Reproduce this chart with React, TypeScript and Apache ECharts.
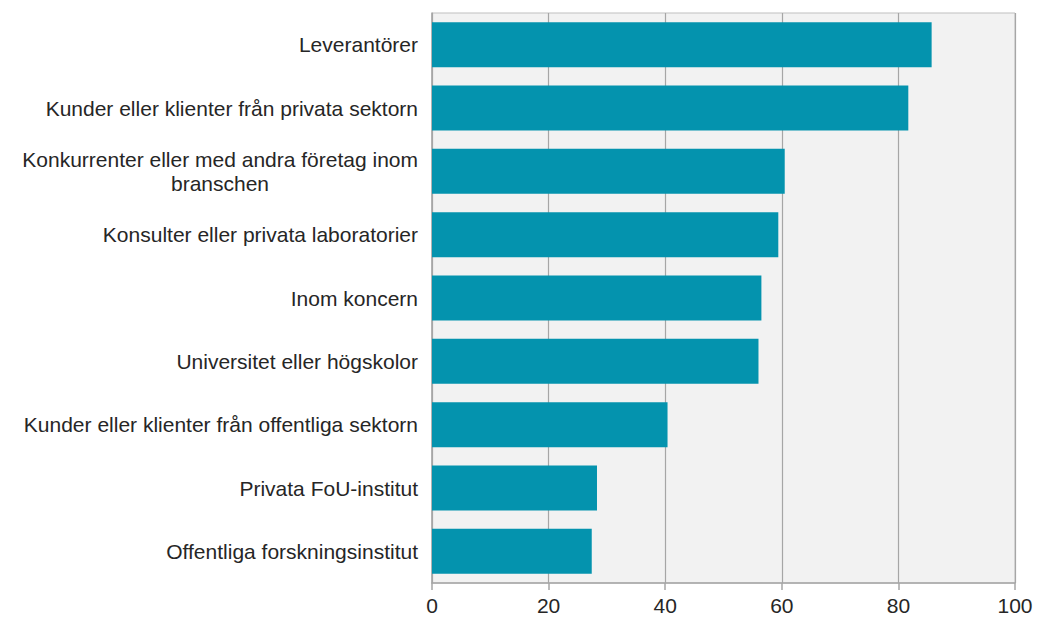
import React, { useEffect, useRef } from "react";
import * as echarts from "echarts";

const categories = [
  "Leverantörer",
  "Kunder eller klienter från privata sektorn",
  "Konkurrenter eller med andra företag inom\nbranschen",
  "Konsulter eller privata laboratorier",
  "Inom koncern",
  "Universitet eller högskolor",
  "Kunder eller klienter från offentliga sektorn",
  "Privata FoU-institut",
  "Offentliga forskningsinstitut",
];
const values = [85.7, 81.7, 60.5, 59.4, 56.5, 56.0, 40.4, 28.3, 27.4];
const xTicks = [0, 20, 40, 60, 80, 100];

const FONT = "'Liberation Sans', Arial, sans-serif";
const LABEL_SIZE = 21;

function measure(text: string, size: number): number {
  const c = document.createElement("canvas").getContext("2d");
  if (!c) return 400;
  c.font = `${size}px ${FONT}`;
  return c.measureText(text).width;
}

export default function App() {
  const ref = useRef<HTMLDivElement>(null);
  useEffect(() => {
    if (!ref.current) return;
    const chart = echarts.init(ref.current, undefined, { renderer: "svg" });
    const firstLine = categories[2].split("\n")[0];
    const w = Math.ceil(measure(firstLine, LABEL_SIZE));
    chart.setOption({
      animation: false,
      grid: {
        left: 432,
        right: 35,
        top: 13,
        bottom: 34,
        show: true,
        backgroundColor: "#f2f2f2",
        borderColor: "#bfbfbf",
        borderWidth: 1,
      },
      xAxis: {
        type: "value",
        min: xTicks[0],
        max: xTicks[xTicks.length - 1],
        interval: 20,
        axisLine: { show: true, lineStyle: { color: "#a6a6a6", width: 1.5 } },
        axisTick: { show: true, length: 7, lineStyle: { color: "#a6a6a6", width: 1.5 } },
        splitLine: { show: true, lineStyle: { color: "#a6a6a6", width: 1.2 } },
        axisLabel: {
          color: "#262626",
          fontFamily: FONT,
          fontSize: 21,
          margin: 12,
        },
      },
      yAxis: {
        type: "category",
        inverse: true,
        data: categories,
        axisLine: { show: true, lineStyle: { color: "#a6a6a6", width: 1.5 } },
        axisTick: { show: false },
        axisLabel: {
          color: "#262626",
          fontFamily: FONT,
          fontSize: LABEL_SIZE,
          margin: 14,
          formatter: (v: string) => {
            if (v.indexOf("\n") >= 0) {
              const parts = v.split("\n");
              return `{a|${parts[0]}}\n{b|${parts[1]}}`;
            }
            return v;
          },
          rich: {
            a: {
              fontFamily: FONT,
              fontSize: LABEL_SIZE,
              color: "#262626",
              lineHeight: 24,
            },
            b: {
              fontFamily: FONT,
              fontSize: LABEL_SIZE,
              color: "#262626",
              lineHeight: 24,
              width: w,
              align: "center",
            },
          },
        },
      },
      series: [
        {
          type: "bar",
          data: values,
          barWidth: "71%",
          itemStyle: { color: "#0493ae" },
        },
      ],
    });
    return () => chart.dispose();
  }, []);
  return (
    <div
      ref={ref}
      style={{ width: 1050, height: 617, position: "fixed", left: 0, top: 0, background: "#fff" }}
    />
  );
}
